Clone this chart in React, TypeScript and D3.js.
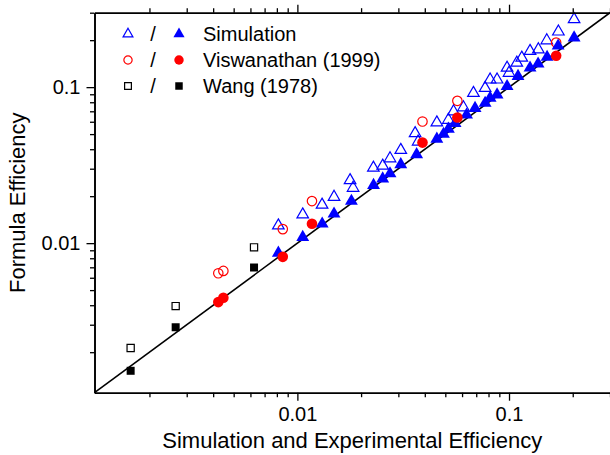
import * as d3 from 'd3';
import React, { useEffect, useRef } from 'react';

// values (log-log, both axes 0.0011 .. 0.3)
const domain = [0.0011, 0.3];

const simOpenX = [0.00813, 0.0106, 0.01308, 0.0149, 0.01774, 0.01833, 0.02286, 0.0253, 0.0274, 0.0308, 0.036, 0.0372,
  0.0456, 0.0517, 0.0547, 0.0609, 0.0679, 0.0771, 0.0814, 0.0878, 0.0979, 0.1, 0.1088, 0.1149, 0.1257, 0.1376,
  0.1508, 0.1711, 0.203];
const simOpenY = [0.01296, 0.01526, 0.01762, 0.01976, 0.02528, 0.02258, 0.0304, 0.0313, 0.0349, 0.0395, 0.0506, 0.0447,
  0.0593, 0.0616, 0.0698, 0.0741, 0.0916, 0.0987, 0.1117, 0.1117, 0.1329, 0.1233, 0.1431, 0.1541, 0.1703, 0.1743,
  0.1992, 0.2268, 0.2722];

const simFilledX = [0.00813, 0.0106, 0.0131, 0.0149, 0.018, 0.0229, 0.0253, 0.0274, 0.0308, 0.0366, 0.0456, 0.049,
  0.0517, 0.0556, 0.063, 0.0691, 0.0771, 0.0814, 0.0878, 0.0979, 0.1103, 0.1257, 0.1372, 0.1513, 0.1706, 0.203];
const simFilledY = [0.00864, 0.0109, 0.0133, 0.0154, 0.0186, 0.0235, 0.0259, 0.0279, 0.0319, 0.037, 0.0465, 0.05,
  0.0539, 0.0587, 0.0664, 0.0733, 0.079, 0.0851, 0.0894, 0.1012, 0.1175, 0.1329, 0.141, 0.1558, 0.184, 0.2075];

const viswX = [0.00423, 0.00447, 0.00853, 0.01172, 0.039, 0.057, 0.167];
const viswOpenY = [0.00641, 0.00664, 0.0123, 0.0186, 0.0602, 0.0817, 0.193];
const viswFilledY = [0.00419, 0.00447, 0.00817, 0.0133, 0.0441, 0.0639, 0.159];

const wangX = [0.00163, 0.00266, 0.00624];
const wangOpenY = [0.00213, 0.00395, 0.0094];
const wangFilledY = [0.00152, 0.00289, 0.00698];

const majorTicks = [0.01, 0.1];
const minorTicks = [0.002, 0.003, 0.004, 0.005, 0.006, 0.007, 0.008, 0.009,
  0.02, 0.03, 0.04, 0.05, 0.06, 0.07, 0.08, 0.09, 0.2, 0.3];

const legendLabels = ['Simulation', 'Viswanathan (1999)', 'Wang (1978)'];

const FONT = "'Liberation Sans', Arial, sans-serif";

const App = () => {
  const ref = useRef(null);

  useEffect(() => {
    const svg = d3.select(ref.current);
    svg.selectAll('*').remove();
    const m = { left: 94.5, right: 610, top: 12.7, bottom: 392.7 };

    const x = d3.scaleLog().domain(domain).range([m.left, m.right]);
    const y = d3.scaleLog().domain(domain).range([m.bottom, m.top]);

    // y = x reference line
    svg.append('line')
      .attr('x1', x(domain[0])).attr('y1', y(domain[0]))
      .attr('x2', x(domain[1])).attr('y2', y(domain[1]))
      .attr('stroke', '#000').attr('stroke-width', 1.6);

    const tri = d3.symbol().type(d3.symbolTriangle);
    const circ = d3.symbol().type(d3.symbolCircle);
    const sq = d3.symbol().type(d3.symbolSquare);

    const plot = (xs, ys, gen, size, color, filled) => {
      svg.append('g')
        .selectAll('path')
        .data(xs.map((v, i) => [v, ys[i]]))
        .join('path')
        .attr('transform', (d) => `translate(${x(d[0])},${y(d[1])})`)
        .attr('d', gen.size(size)())
        .attr('fill', filled ? color : 'none')
        .attr('stroke', color)
        .attr('stroke-width', filled ? 0 : 1.2);
    };

    plot(simOpenX, simOpenY, tri, 58, '#0000ff', false);
    plot(viswX, viswOpenY, circ, 70, '#ff0000', false);
    plot(wangX, wangOpenY, sq, 52, '#000', false);
    plot(simFilledX, simFilledY, tri, 72, '#0000ff', true);
    plot(viswX, viswFilledY, circ, 88, '#ff0000', true);
    plot(wangX, wangFilledY, sq, 64, '#000', true);

    // axes
    const styleAxis = (g) => g.call((g) => g.select('.domain').attr('stroke-width', 1.6))
      .call((g) => g.selectAll('.tick line').attr('stroke-width', 1.3))
      .call((g) => g.selectAll('text').attr('font-size', 20).attr('font-family', FONT).attr('fill', '#000'));

    svg.append('g').attr('transform', `translate(0,${m.bottom})`)
      .call(d3.axisBottom(x).tickValues(minorTicks).tickSize(4.5).tickFormat(() => '').tickSizeOuter(0))
      .call(styleAxis);
    svg.append('g').attr('transform', `translate(0,${m.bottom})`)
      .call(d3.axisBottom(x).tickValues(majorTicks).tickSize(8).tickPadding(6).tickFormat(d3.format('')).tickSizeOuter(0))
      .call(styleAxis);
    svg.append('g').attr('transform', `translate(0,${m.top})`)
      .call(d3.axisTop(x).tickValues(minorTicks).tickSize(4.5).tickFormat(() => '').tickSizeOuter(0))
      .call(styleAxis);
    svg.append('g').attr('transform', `translate(0,${m.top})`)
      .call(d3.axisTop(x).tickValues(majorTicks).tickSize(8).tickFormat(() => '').tickSizeOuter(0))
      .call(styleAxis);
    svg.append('g').attr('transform', `translate(${m.left},0)`)
      .call(d3.axisLeft(y).tickValues(minorTicks).tickSize(4.5).tickFormat(() => '').tickSizeOuter(0))
      .call(styleAxis);
    svg.append('g').attr('transform', `translate(${m.left},0)`)
      .call(d3.axisLeft(y).tickValues(majorTicks).tickSize(8).tickPadding(6).tickFormat(d3.format('')).tickSizeOuter(0))
      .call(styleAxis);

    // axis titles
    svg.append('text')
      .attr('x', (m.left + m.right) / 2).attr('y', 448)
      .attr('text-anchor', 'middle').attr('font-size', 22).attr('font-family', FONT)
      .text('Simulation and Experimental Efficiency');
    svg.append('text')
      .attr('transform', `translate(25,${(m.top + m.bottom) / 2}) rotate(-90)`)
      .attr('text-anchor', 'middle').attr('font-size', 22).attr('font-family', FONT)
      .text('Formula Efficiency');

    // legend
    const legendSyms = [
      [tri, 42, 54, '#0000ff'],
      [circ, 54, 70, '#ff0000'],
      [sq, 46, 56, '#000'],
    ];
    legendLabels.forEach((label, i) => {
      const cy = 34 + i * 26;
      const [gen, sOpen, sFill, color] = legendSyms[i];
      svg.append('path').attr('transform', `translate(128,${cy})`)
        .attr('d', gen.size(sOpen)()).attr('fill', 'none').attr('stroke', color).attr('stroke-width', 1.2);
      svg.append('text').attr('x', 153).attr('y', cy + 7).attr('text-anchor', 'middle')
        .attr('font-size', 20).attr('font-family', FONT).text('/');
      svg.append('path').attr('transform', `translate(179,${cy})`)
        .attr('d', gen.size(sFill)()).attr('fill', color);
      svg.append('text').attr('x', 203).attr('y', cy + 7)
        .attr('font-size', 20).attr('font-family', FONT).text(label);
    });
  }, []);

  return (
    <svg ref={ref} width={610} height={455} viewBox="0 0 610 455"
      style={{ position: 'absolute', left: 0, top: 0, background: '#fff' }} />
  );
};

export default App;
